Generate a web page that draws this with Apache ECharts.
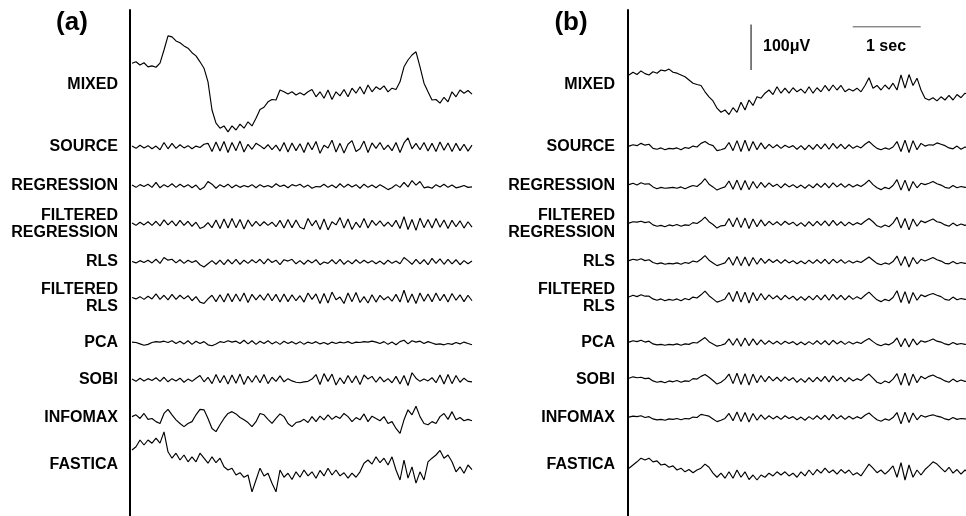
<!DOCTYPE html>
<html><head><meta charset="utf-8">
<script src="https://cdn.jsdelivr.net/npm/echarts@6/dist/echarts.min.js"></script>
<style>html,body{margin:0;padding:0;background:#fff}#c{width:966px;height:516px}</style>
</head><body><div id="c"></div>
<script>
// ---- data: amplitudes in µV, one sample every 1/17 s ----
const TIME_STEP = 1 / 17;
const ROW_LABELS = ['MIXED', 'SOURCE', 'REGRESSION', 'FILTERED\nREGRESSION', 'RLS', 'FILTERED\nRLS', 'PCA', 'SOBI', 'INFOMAX', 'FASTICA'];
const PANEL_TAGS = ['(a)', '(b)'];
const SCALE_UV = 100, SCALE_SEC = 1;
const SCALE_TEXTS = ['100μV', '1 sec'];

const A_MIXED = [48,51,44,49,40,42,39,48,77,108,106,97,93,86,81,71,64,51,37,7,-55,-84,-95,-90,-103,-90,-99,-86,-95,-81,-90,-73,-54,-49,-37,-32,-33,-11,-15,-20,-15,-22,-17,-22,-15,-10,-26,-15,-29,-11,-32,-15,-24,-10,-26,-7,-18,-4,-20,0,-15,-4,-10,-2,-15,-7,-10,7,40,55,66,73,40,4,-15,-33,-32,-40,-27,-37,-15,-26,-11,-18,-12,-20];
const A_SOURCE = [2,-3,4,-2,3,-4,2,-6,10,-4,8,-3,5,-2,3,-4,2,-1,6,8,-10,11,-9,12,-12,10,-8,13,-11,6,-5,8,3,-4,5,-6,4,-9,10,-11,9,-8,7,-12,10,-6,12,-14,4,-2,15,-11,8,-13,6,14,-10,-4,13,-12,9,-3,10,-6,4,-8,10,-12,9,20,-4,8,-6,10,-9,8,-10,11,-7,9,-10,8,-8,6,-9,4];
const A_REGRESSION = [2,-3,3,-1,4,-3,8,-4,3,-2,5,-3,4,-2,3,-4,2,-8,-3,10,4,-5,3,-2,4,-4,2,-3,1,-2,3,-4,3,-2,1,-3,5,-1,2,-4,3,0,4,-3,2,-5,-1,-2,4,-3,2,-4,5,-3,4,-2,3,-5,4,-3,2,-4,3,-2,-8,-4,3,-3,8,-2,12,2,10,-4,-2,-5,3,-2,4,-3,2,-4,-2,1,-3,-2];
const A_FILT_REGRESSION = [2,-3,4,-2,5,-3,6,-4,9,-2,7,-4,8,-3,6,-5,4,-10,-6,3,-8,9,-10,11,-9,12,-8,10,-11,9,-5,6,-4,5,-3,4,-6,8,-9,10,-8,9,-7,-11,12,-4,8,-12,11,-13,5,-2,14,-9,11,-12,4,-8,12,-9,8,-3,7,-5,4,-6,8,-10,16,-12,10,-14,13,-8,10,-9,12,-7,9,-10,8,-6,7,-9,5,-7];
const A_RLS = [1,-2,3,-1,4,-2,6,-3,10,4,6,-2,5,-3,4,-1,3,-6,-11,-4,3,-5,4,-6,5,-4,6,-5,4,-3,5,-2,6,-4,7,-1,4,-6,5,2,6,-4,3,-5,4,-2,5,-6,0,-3,5,-4,6,-5,3,-4,5,-3,4,-2,3,-4,2,-5,4,-3,2,-4,10,3,-5,6,-4,5,-6,8,-3,7,-5,6,-4,5,-6,3,-4,2];
const A_FILT_RLS = [1,-2,3,-3,4,-2,9,-3,6,-4,8,-3,6,-2,5,-6,3,-9,-12,-2,6,-8,7,-9,10,-8,9,-7,11,-10,8,-4,7,-5,10,-6,8,-9,9,-8,7,-6,5,-9,11,-3,9,-12,10,-11,13,-4,2,-12,11,-8,12,-10,3,-11,7,-9,6,-4,3,-7,8,-9,17,-10,9,-12,11,-7,9,-8,11,-6,8,-9,10,-5,7,-8,6,-6];
const A_PCA = [2,1,-2,-5,-3,1,3,2,4,1,5,-1,4,-2,5,-3,4,-1,3,-4,-6,-2,3,1,5,2,4,-1,6,-2,5,-3,4,-1,5,-2,3,-3,4,-1,3,-2,3,-3,2,-1,3,-2,1,-3,2,-1,2,0,3,-1,2,1,3,2,4,2,-1,3,-3,2,-4,3,6,-2,5,2,4,-1,3,0,-3,-2,-4,-1,-3,1,-2,2,-1,-4];
const A_SOBI = [2,-3,4,-2,3,-1,5,-3,6,-4,3,-2,4,-5,2,-3,4,10,-4,6,-8,12,-6,10,-9,11,-7,13,-10,8,-5,10,-6,12,-8,6,-3,9,-4,3,-2,-5,-6,-4,-3,2,12,-10,14,-3,13,-11,5,-8,10,-6,9,-10,11,2,8,-5,7,-4,3,-6,8,-9,10,-12,16,4,-3,2,-2,5,-6,11,-9,12,-8,10,-5,4,-3,-4];
const A_INFOMAX = [3,7,-1,10,-3,-1,-8,-12,10,19,7,-4,-12,-19,-12,-8,7,19,18,-1,-23,-30,-15,-1,10,14,9,1,-4,-10,-19,-8,10,7,-3,-12,-1,9,3,-12,-19,-10,-8,-3,-10,3,-8,4,-4,7,-3,4,-1,10,3,-8,1,-4,9,-8,4,-1,-6,3,-12,-8,-23,-34,-4,18,7,26,3,-12,-15,-8,-12,3,10,-3,14,-4,1,-6,-3,-6];
const A_FASTICA = [33,40,55,44,55,48,59,48,73,29,15,26,11,22,7,18,7,26,15,4,18,5,15,-4,-11,-7,-22,-17,-27,-22,-59,-33,-7,-24,-18,-40,-59,-11,-27,-18,-32,-15,-27,-11,-24,-15,-29,-12,-24,-7,-22,-11,-24,-17,-29,-18,-27,-15,4,11,2,18,5,15,0,18,-11,-33,11,-29,-4,-40,-15,-33,7,15,22,32,15,22,7,-15,-4,-18,0,-10];

const B_MIXED = [22,28,23,31,25,22,29,26,33,31,35,28,26,22,18,11,4,1,-1,-15,-26,-35,-51,-60,-55,-65,-50,-60,-38,-55,-33,-45,-26,-29,-18,-11,-21,-4,-18,-7,-18,-6,-15,-9,-18,-4,-18,-6,-15,-1,-13,0,-11,-1,-15,-9,-13,-7,-15,-1,16,-7,-1,-11,0,-9,4,-11,22,-7,23,-1,15,-11,-29,-33,-28,-35,-26,-33,-23,-33,-21,-28,-18,-22];
const B_SOURCE = [2,5,3,8,4,6,-3,-5,-2,-6,-3,-4,-2,-6,-1,-3,2,0,8,12,6,3,-8,-6,-3,10,-8,14,-10,15,-9,12,-6,9,-4,6,-2,5,-3,4,-1,3,-5,3,-6,4,-5,6,-4,7,-5,8,-3,6,-4,5,-3,2,-2,6,12,4,-3,-6,-2,-5,0,12,-10,15,-12,14,-6,8,2,5,4,9,6,3,-2,-4,2,-5,0,-3];
const B_REGRESSION = [3,6,2,7,4,5,-2,-6,-3,-5,-4,-3,-5,-2,-6,-2,1,-1,6,16,4,-2,-9,-5,-2,11,-7,13,-9,12,-8,10,-5,8,-3,7,-1,4,-4,5,-2,3,-4,2,-5,3,-4,5,-3,6,-4,7,-2,5,-3,4,-2,3,-1,5,13,3,-4,-8,-3,-6,1,14,-9,13,-11,10,-4,6,3,6,10,5,2,-3,-5,1,-4,-1,-3,-2];
const B_FILT_REGRESSION = [2,5,4,6,3,5,-2,-5,-3,-6,-2,-4,-1,-5,-2,-3,3,1,7,15,5,-1,-9,-4,-3,12,-6,14,-8,13,-10,11,-6,9,-4,6,-2,5,-3,6,-1,4,-4,3,-5,5,-4,6,-3,7,-4,8,-3,5,-4,4,-2,3,-1,6,12,5,-4,-7,-2,-6,2,15,-9,12,-13,11,-5,7,3,7,11,5,3,-2,-5,2,-4,0,-3,-1];
const B_RLS = [3,6,4,7,3,5,-1,-4,-2,-5,-3,-4,-2,-5,-1,-3,2,0,6,14,4,-2,-8,-5,-2,10,-7,12,-8,11,-9,10,-5,8,-3,6,-1,5,-3,5,-2,3,-4,2,-4,4,-3,5,-3,6,-4,6,-2,5,-3,3,-2,2,-1,5,11,4,-3,-6,-2,-5,1,13,-8,12,-11,10,-4,6,2,6,10,5,2,-3,-4,1,-4,-1,-3,-2];
const B_FILT_RLS = [2,6,3,7,4,4,-2,-5,-2,-6,-3,-5,-2,-6,-1,-4,2,0,7,15,5,-2,-9,-6,-2,12,-8,15,-9,13,-11,12,-6,10,-4,7,-2,5,-4,6,-2,4,-5,3,-5,4,-4,6,-4,7,-5,8,-3,6,-4,5,-3,3,-2,6,13,4,-4,-8,-3,-6,1,16,-10,14,-12,12,-5,7,3,7,10,6,3,-3,-5,2,-4,-1,-3,-2];
const B_PCA = [2,5,3,6,2,4,-2,-4,-3,-5,-3,-4,-2,-5,-2,-3,1,0,6,12,3,-2,-7,-5,-2,9,-5,10,-7,11,-6,9,-4,7,-3,5,-2,4,-3,4,-1,3,-4,2,-4,3,-3,5,-3,5,-4,6,-2,4,-3,3,-2,2,-1,5,10,3,-3,-6,-2,-4,1,11,-8,10,-9,9,-4,5,2,5,9,4,2,-2,-4,1,-3,-1,-3,-2];
const B_SOBI = [4,7,5,6,3,4,-2,-5,-3,-6,-2,-4,-1,-5,-2,-3,3,2,8,12,6,-1,-9,-5,2,13,-8,15,-10,14,-11,13,-6,10,-4,8,-2,6,-3,7,-1,5,-5,3,-5,5,-4,6,-3,8,-4,9,-2,6,-4,5,-2,3,-1,7,13,4,-5,-8,-2,-6,2,14,-11,15,-12,13,-6,8,3,8,11,6,3,-2,-5,2,-4,0,-3,-2];
const B_INFOMAX = [2,4,3,5,1,3,-2,-4,-3,-5,-2,-3,-1,-4,-1,-2,2,1,8,6,4,-2,-8,-5,-1,10,-6,13,-8,12,-9,10,-5,7,-3,5,-2,4,-3,5,-1,3,-4,2,-5,3,-3,5,-3,6,-4,8,-2,5,-3,4,-2,3,-1,6,11,3,-4,-7,-2,-5,1,12,-13,13,-10,11,-4,6,2,5,7,4,2,-2,-4,1,-3,-1,-2,-3];
const B_FASTICA = [-7,0,7,15,11,15,7,9,0,2,-5,-2,-11,-7,-15,-10,-17,-11,-7,2,-5,-18,-27,-18,-29,-15,-29,-11,-27,-15,-32,-22,-33,-22,-27,-18,-24,-15,-22,-15,-24,-18,-27,-15,-24,-11,-22,-10,-18,-7,-17,-11,-20,-10,-18,-11,-22,-17,-24,-11,2,-7,-17,-11,-20,-12,-2,-27,5,-33,0,-27,-11,-22,-10,-2,7,2,-7,-15,-5,-18,-10,-20,-11,-17];

// ---- layout ----
const ROW_Y = [85, 147, 186, 224, 262, 298, 343, 380, 418, 465];
const ROW_RANGE = [170, 110, 110, 110, 110, 110, 110, 110, 110, 110];
const PX_PER_UV = 1 / 2.2, SEC_SPAN = 5, TRACE_W = 340;
const PANELS = [
  {left: 132, width: 340, axisX: 129.5, labelRight: 118, tagX: 72,
   data: [A_MIXED, A_SOURCE, A_REGRESSION, A_FILT_REGRESSION, A_RLS, A_FILT_RLS, A_PCA, A_SOBI, A_INFOMAX, A_FASTICA]},
  {left: 629, width: 337, axisX: 628, labelRight: 615, tagX: 571,
   data: [B_MIXED, B_SOURCE, B_REGRESSION, B_FILT_REGRESSION, B_RLS, B_FILT_RLS, B_PCA, B_SOBI, B_INFOMAX, B_FASTICA]}
];
const FONT = '"Liberation Sans", Arial, Helvetica, sans-serif';

const grids = [], xAxes = [], yAxes = [], series = [], graphics = [];
let mixedBGrid = -1;
PANELS.forEach((p, pi) => {
  // vertical axis line
  let gi = grids.length;
  grids.push({left: p.axisX, top: 10, width: 1, height: 506, outerBoundsMode: 'none'});
  xAxes.push({gridIndex: gi, type: 'value', show: false, min: 0, max: 1});
  yAxes.push({gridIndex: gi, type: 'value', min: 0, max: 1, axisLine: {show: true, onZero: false, lineStyle: {color: '#000', width: 2}},
    axisTick: {show: false}, axisLabel: {show: false}, splitLine: {show: false}});
  p.data.forEach((arr, ri) => {
    gi = grids.length;
    if (pi === 1 && ri === 0) mixedBGrid = gi;
    const R = ROW_RANGE[ri], H = 2 * R * PX_PER_UV;
    grids.push({left: p.left, top: ROW_Y[ri] - H / 2, width: p.width, height: H, outerBoundsMode: 'none'});
    xAxes.push({gridIndex: gi, type: 'value', min: 0, max: SEC_SPAN * p.width / TRACE_W, show: false});
    yAxes.push({gridIndex: gi, type: 'value', min: -R, max: R, show: false});
    series.push({type: 'line', xAxisIndex: gi, yAxisIndex: gi, silent: true, clip: true,
      symbol: 'none', lineStyle: {color: '#000', width: 1.15},
      data: arr.map((v, i) => [i * TIME_STEP, v])});
    graphics.push({type: 'text', x: p.labelRight, y: ROW_Y[ri], silent: true,
      style: {text: ROW_LABELS[ri], fill: '#000', font: 'bold 16px ' + FONT, lineHeight: 16.5,
        align: 'right', verticalAlign: 'middle', textAlign: 'right', textVerticalAlign: 'middle'}});
  });
  graphics.push({type: 'text', x: p.tagX, y: 23, silent: true,
    style: {text: PANEL_TAGS[pi], fill: '#000', font: 'bold 26px ' + FONT,
      align: 'center', verticalAlign: 'middle', textAlign: 'center', textVerticalAlign: 'middle'}});
});

// scale bars (drawn in the MIXED grid of panel b)
const SB_T = 1.795, SB_UV0 = 33, SB_T0 = 3.29, SB_HUV = 128;
series.push({type: 'line', xAxisIndex: mixedBGrid, yAxisIndex: mixedBGrid, silent: true, clip: false, symbol: 'none',
  lineStyle: {color: '#000', width: 1}, data: [[SB_T, SB_UV0], [SB_T, SB_UV0 + SCALE_UV]]});
series.push({type: 'line', xAxisIndex: mixedBGrid, yAxisIndex: mixedBGrid, silent: true, clip: false, symbol: 'none',
  lineStyle: {color: '#555', width: 1}, data: [[SB_T0, SB_HUV], [SB_T0 + SCALE_SEC, SB_HUV]]});
graphics.push({type: 'text', x: 763, y: 47, silent: true,
  style: {text: SCALE_TEXTS[0], fill: '#000', font: 'bold 16px ' + FONT, align: 'left', verticalAlign: 'middle', textAlign: 'left', textVerticalAlign: 'middle'}});
graphics.push({type: 'text', x: 866, y: 47, silent: true,
  style: {text: SCALE_TEXTS[1], fill: '#000', font: 'bold 16px ' + FONT, align: 'left', verticalAlign: 'middle', textAlign: 'left', textVerticalAlign: 'middle'}});

const chart = echarts.init(document.getElementById('c'), null, {renderer: 'canvas'});
chart.setOption({
  animation: false,
  backgroundColor: '#fff',
  grid: grids, xAxis: xAxes, yAxis: yAxes, series: series, graphic: graphics
});
</script></body></html>
